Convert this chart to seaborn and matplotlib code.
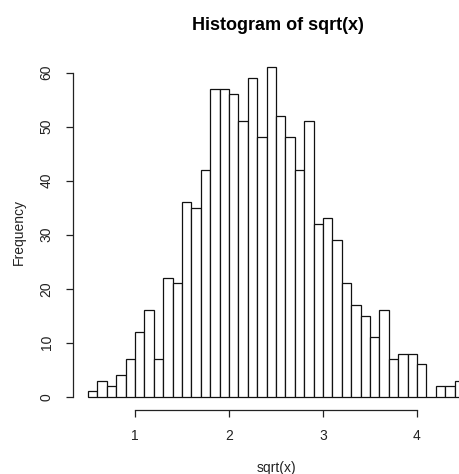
import numpy as np
import pandas as pd
import matplotlib
matplotlib.use("Agg")
import matplotlib.pyplot as plt
import seaborn as sns

# Data: histogram of sqrt(x), bins of width 0.1 from 0.5 to 4.5
bin_edges = [round(0.5 + 0.1 * i, 1) for i in range(41)]
counts = [1, 3, 2, 4, 7, 12, 16, 7, 22, 21,
          36, 35, 42, 57, 57, 56, 51, 59, 48, 61,
          52, 48, 42, 51, 32, 33, 29, 21, 17, 15,
          11, 16, 7, 8, 8, 6, 0, 2, 2, 3]
x_ticks = [1, 2, 3, 4]
y_ticks = [0, 10, 20, 30, 40, 50, 60]
title = "Histogram of sqrt(x)"
xlabel = "sqrt(x)"
ylabel = "Frequency"

centers = [(bin_edges[i] + bin_edges[i + 1]) / 2 for i in range(len(counts))]
df = pd.DataFrame({"center": centers, "count": counts})

sns.set_style("white")
plt.rcParams["font.family"] = ["Liberation Sans", "DejaVu Sans"]

W, H = 460, 474
fig = plt.figure(figsize=(W / 100, H / 100), dpi=100)
# Plot region (in pixels): x 73..479, y 54..410 (extends past right edge like reference)
left, right, top, bottom = 73, 479, 54, 410
ax = fig.add_axes([left / W, 1 - bottom / H, (right - left) / W, (bottom - top) / H])

sns.histplot(data=df, x="center", weights="count", bins=bin_edges,
             color="white", edgecolor="#111111", linewidth=0.9, alpha=1.0, ax=ax)

xmin, xmax = bin_edges[0], bin_edges[-1]
xr = (xmax - xmin) * 0.04
ymax = max(counts)
yr = ymax * 0.04
ax.set_xlim(xmin - xr, xmax + xr)
ax.set_ylim(-yr, ymax + yr)

for s in ["top", "right"]:
    ax.spines[s].set_visible(False)
ax.spines["left"].set_bounds(y_ticks[0], y_ticks[-1])
ax.spines["bottom"].set_bounds(x_ticks[0], x_ticks[-1])
for s in ["left", "bottom"]:
    ax.spines[s].set_color("#222222")
    ax.spines[s].set_linewidth(0.9)

ax.set_xticks(x_ticks)
ax.set_yticks(y_ticks)
ax.set_xticklabels([str(v) for v in x_ticks])
ax.set_yticklabels([str(v) for v in y_ticks], rotation=90, va="center")
ax.tick_params(axis="both", direction="out", length=5, width=0.9, color="#222222",
               labelsize=10, labelcolor="#222222", pad=9)
ax.tick_params(axis="x", bottom=True)
ax.tick_params(axis="y", left=True)

ax.set_xlabel("")
ax.set_ylabel("")
fig.text(276 / W, 1 - 468 / H, xlabel, ha="center", va="center", fontsize=10, color="#222222")
fig.text(19 / W, 1 - 232 / H, ylabel, ha="center", va="center", rotation=90,
         fontsize=10, color="#222222")
fig.text(278 / W, 1 - 25 / H, title, ha="center", va="center", fontsize=13,
         fontweight="bold", color="black")

fig.savefig("out.png", dpi=100)
